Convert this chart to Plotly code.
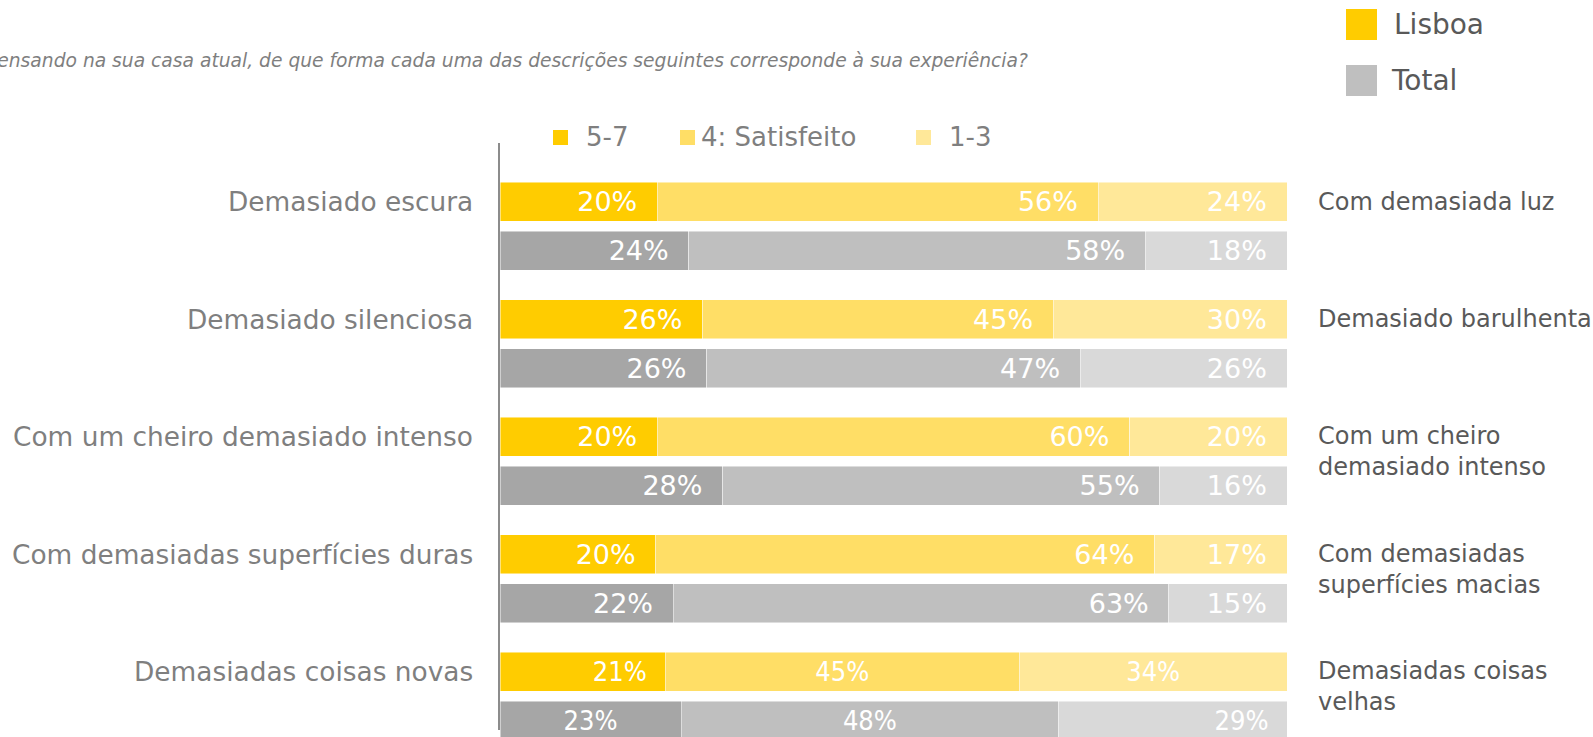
import plotly.graph_objects as go

# Survey statements (left) and their opposites (right)
categories = [
    "Demasiado escura",
    "Demasiado silenciosa",
    "Com um cheiro demasiado intenso",
    "Com demasiadas superfícies duras",
    "Demasiadas coisas novas",
]
opposites = [
    "Com demasiada luz",
    "Demasiado barulhenta",
    "Com um cheiro<br>demasiado intenso",
    "Com demasiadas<br>superfícies macias",
    "Demasiadas coisas<br>velhas",
]

segment_names = ["5-7", "4: Satisfeito", "1-3"]

# Lisboa answers (%)
lisboa_5_7 = [20, 26, 20, 20, 21]
lisboa_4 = [56, 45, 60, 64, 45]
lisboa_1_3 = [24, 30, 20, 17, 34]

# Total answers (%)
total_5_7 = [24, 26, 28, 22, 23]
total_4 = [58, 47, 55, 63, 48]
total_1_3 = [18, 26, 16, 15, 29]

title_text = ("Pensando na sua casa atual, de que forma cada uma das descrições "
              "seguintes corresponde à sua experiência?")

LISBOA_COLORS = ["#FFCC00", "#FFDE66", "#FFE899"]
TOTAL_COLORS = ["#A6A6A6", "#BFBFBF", "#D9D9D9"]

W, H = 1593, 737
ML, MR, MT, MB = 500, 306, 143, 0
PW, PH = W - ML - MR, H - MT - MB
FONT = "DejaVu Sans"


def px(x):
    return (x - ML) / PW


def py(y):
    return (H - MB - y) / PH


GROUP_PX = 117.5
OFFSET = 24.5 / GROUP_PX
BAR_W = 39 / GROUP_PX
n = len(categories)
y_lisboa = [i - OFFSET for i in range(n)]
y_total = [i + OFFSET for i in range(n)]

fig = go.Figure()

series = [
    ("Lisboa", [lisboa_5_7, lisboa_4, lisboa_1_3], LISBOA_COLORS, y_lisboa,
     ["end", "middle", "middle"]),
    ("Total", [total_5_7, total_4, total_1_3], TOTAL_COLORS, y_total,
     ["middle", "middle", "end"]),
]

PAD = "\u00a0\u00a0"
for name, segs, colors, ys, last_anchor in series:
    for k, (vals, col) in enumerate(zip(segs, colors)):
        # first four statements: labels at the inner end of each segment
        fig.add_trace(go.Bar(
            x=vals[:-1], y=ys[:-1], orientation="h", width=BAR_W,
            name=f"{name} {segment_names[k]}",
            marker=dict(color=col, line=dict(color="rgba(255,255,255,0.6)", width=0.8)),
            text=[f"{v}%{PAD}" for v in vals[:-1]],
            textposition="inside", insidetextanchor="end", textangle=0,
            textfont=dict(family=FONT, size=27, color="white"),
            showlegend=False, hoverinfo="skip",
        ))
        # last statement
        anchor = last_anchor[k]
        lab = f"{vals[-1]}%" + (PAD if anchor == "end" else "")
        fig.add_trace(go.Bar(
            x=[vals[-1]], y=[ys[-1]], orientation="h", width=BAR_W,
            name=f"{name} {segment_names[k]}",
            marker=dict(color=col, line=dict(color="rgba(255,255,255,0.6)", width=0.8)),
            text=[lab],
            textposition="inside", insidetextanchor=anchor, textangle=0,
            textfont=dict(family="DejaVu Sans Condensed, " + FONT, size=27, color="white"),
            showlegend=False, hoverinfo="skip",
        ))

annotations = []
shapes = []

# statement labels, left and right
for i in range(n):
    annotations.append(dict(
        xref="paper", yref="y", x=px(475), y=y_lisboa[i], xanchor="right", yanchor="middle",
        text=categories[i], showarrow=False,
        font=dict(family=FONT, size=26.4, color="#7F7F7F"),
    ))
    nlines = opposites[i].count("<br>") + 1
    annotations.append(dict(
        xref="paper", yref="y", x=px(1316), y=y_lisboa[i], xanchor="left", yanchor="middle",
        yshift=-(nlines - 1) * 15, align="left",
        text=opposites[i], showarrow=False,
        font=dict(family=FONT, size=24, color="#595959"),
    ))

# title
annotations.append(dict(
    xref="paper", yref="paper", x=px(1030), y=py(60), xanchor="right", yanchor="middle",
    text=f"<i>{title_text}</i>", showarrow=False,
    font=dict(family=FONT, size=18.7, color="#7F7F7F"),
))

# segment key above the bars
seg_key = [(553, 584), (680, 699), (916, 947)]
for (sx, tx), name, col in zip(seg_key, segment_names, LISBOA_COLORS):
    shapes.append(dict(type="rect", xref="paper", yref="paper",
                       x0=px(sx), x1=px(sx + 15), y0=py(145), y1=py(130),
                       fillcolor=col, line=dict(width=0)))
    annotations.append(dict(
        xref="paper", yref="paper", x=px(tx), y=py(137), xanchor="left", yanchor="middle",
        text=name, showarrow=False, font=dict(family=FONT, size=26, color="#7F7F7F"),
    ))

# Lisboa / Total key
for (top, tx, name, col) in [(9, 1392, "Lisboa", LISBOA_COLORS[0]),
                             (65, 1389, "Total", TOTAL_COLORS[1])]:
    shapes.append(dict(type="rect", xref="paper", yref="paper",
                       x0=px(1346), x1=px(1377), y0=py(top + 31), y1=py(top),
                       fillcolor=col, line=dict(width=0)))
    annotations.append(dict(
        xref="paper", yref="paper", x=px(tx), y=py(top + 15.5), xanchor="left", yanchor="middle",
        text=name, showarrow=False, font=dict(family=FONT, size=28, color="#595959"),
    ))

# vertical axis line
shapes.append(dict(type="line", xref="paper", yref="paper",
                   x0=px(499), x1=px(499), y0=py(730), y1=py(143),
                   line=dict(color="#8C8C8C", width=2)))

fig.update_layout(
    width=W, height=H,
    margin=dict(l=ML, r=MR, t=MT, b=MB, pad=0),
    barmode="stack", barnorm="percent",
    paper_bgcolor="white", plot_bgcolor="white",
    xaxis=dict(range=[0, 100], visible=False, fixedrange=True),
    yaxis=dict(range=[(H - MB - 226) / GROUP_PX, (MT - 226) / GROUP_PX],
               visible=False, fixedrange=True),
    annotations=annotations, shapes=shapes,
    showlegend=False,
    font=dict(family=FONT),
)

fig.write_html("out.html", config={"displayModeBar": False})
